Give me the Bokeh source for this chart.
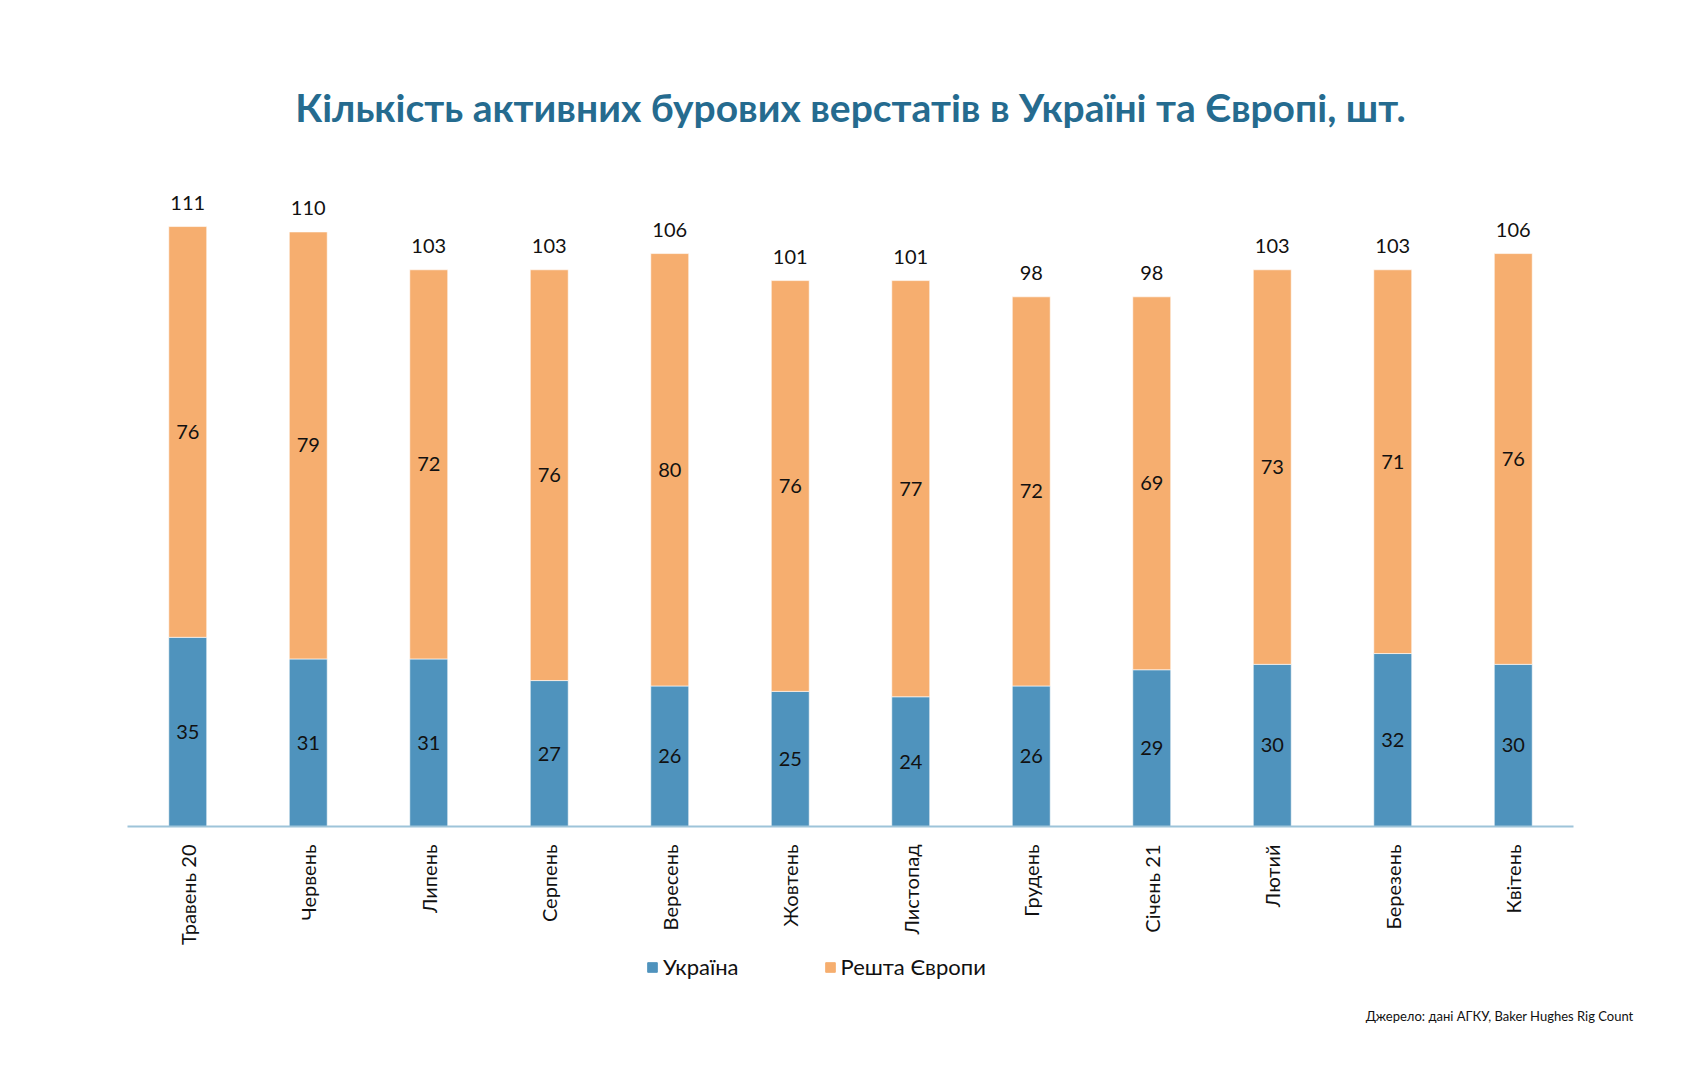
import numpy as np
from bokeh.plotting import figure
from bokeh.layouts import column
from bokeh.models import FactorRange, Range1d, Legend, LegendItem, ColumnDataSource, Title
from bokeh.core.properties import value
from bokeh.embed import file_html
from bokeh.resources import INLINE
from math import pi

months = ["Травень 20", "Червень", "Липень", "Серпень", "Вересень", "Жовтень",
          "Листопад", "Грудень", "Січень 21", "Лютий", "Березень", "Квітень"]
ukraine = [35, 31, 31, 27, 26, 25, 24, 26, 29, 30, 32, 30]
rest_europe = [76, 79, 72, 76, 80, 76, 77, 72, 69, 73, 71, 76]
series_names = ["Україна", "Решта Європи"]
title_text = "Кількість активних бурових верстатів в Україні та Європі, шт."
source_text = "Джерело: дані АГКУ, Baker Hughes Rig Count"

BLUE = "#4f93bd"
ORANGE = "#f6ae6f"
FONT = "Lato"

totals = [u + r for u, r in zip(ukraine, rest_europe)]
src = ColumnDataSource(dict(
    month=months, ua=ukraine, re=rest_europe, total=totals,
    ua_mid=[u / 2 for u in ukraine],
    re_mid=[u + r / 2 for u, r in zip(ukraine, rest_europe)],
    ua_txt=[str(v) for v in ukraine],
    re_txt=[str(v) for v in rest_europe],
    tot_txt=[str(v) for v in totals],
))

# ---------------- main chart ----------------
p = figure(width=1684, height=950, x_range=FactorRange(*months, range_padding=0),
           y_range=Range1d(0, 125.07), output_backend="svg", toolbar_location=None,
           min_border_left=127, min_border_right=111, min_border_top=150,
           min_border_bottom=124)
p.outline_line_color = None
p.xgrid.grid_line_color = None
p.ygrid.grid_line_color = None
p.yaxis.visible = False

r = p.vbar_stack(["ua", "re"], x="month", width=0.315, color=[BLUE, ORANGE],
                 line_color="white", line_width=0.6, source=src)

common = dict(text_font=value(FONT), text_font_size="20px", text_color="#111111",
              text_align="center", text_baseline="middle", source=src)
p.text(x="month", y="ua_mid", text="ua_txt", **common)
p.text(x="month", y="re_mid", text="re_txt", **common)
p.text(x="month", y="total", text="tot_txt", y_offset=-24, **common)

ax = p.xaxis[0]
ax.axis_line_color = "#9ec4d9"
ax.axis_line_width = 2
ax.major_tick_line_color = None
ax.minor_tick_line_color = None
ax.major_label_orientation = pi / 2
ax.major_label_standoff = 12
ax.major_label_text_font = FONT
ax.major_label_text_font_size = "20px"
ax.major_label_text_color = "#111111"

p.title.text = title_text
p.title.align = "center"
p.title.text_font = FONT
p.title.text_font_size = "39px"
p.title.text_font_style = "bold"
p.title.text_color = "#256b8f"
p.title.standoff = 41

# ---------------- legend + source strip ----------------
# frame of this strip is aligned with the main frame (x 127..1573)
f = figure(width=1684, height=130, x_range=Range1d(0, 1), y_range=Range1d(0, 1),
           output_backend="svg", toolbar_location=None, min_border=0,
           min_border_bottom=75)
f.outline_line_color = None
f.axis.visible = False
f.grid.visible = False

lg = [f.vbar(x=np.array([np.nan]), top=np.array([np.nan]), width=1, color=c)
      for c in (BLUE, ORANGE)]

legend = Legend(items=[LegendItem(label=series_names[0], renderers=[lg[0]]),
                       LegendItem(label=series_names[1], renderers=[lg[1]])],
                location=(519, 25), orientation="horizontal",
                glyph_width=12, glyph_height=12, label_standoff=5, spacing=85,
                padding=0, margin=0, border_line_color=None, background_fill_alpha=0,
                label_text_font=FONT, label_text_font_size="22px",
                label_text_color="#111111")
f.add_layout(legend, "center")

src_title = Title(text=source_text, align="right", offset=-60, standoff=0,
                  text_font=FONT, text_font_size="13px", text_font_style="normal",
                  text_color="#111111")
f.add_layout(src_title, "below")

layout = column(p, f, spacing=0)
open("out.html", "w").write(file_html(layout, INLINE))
